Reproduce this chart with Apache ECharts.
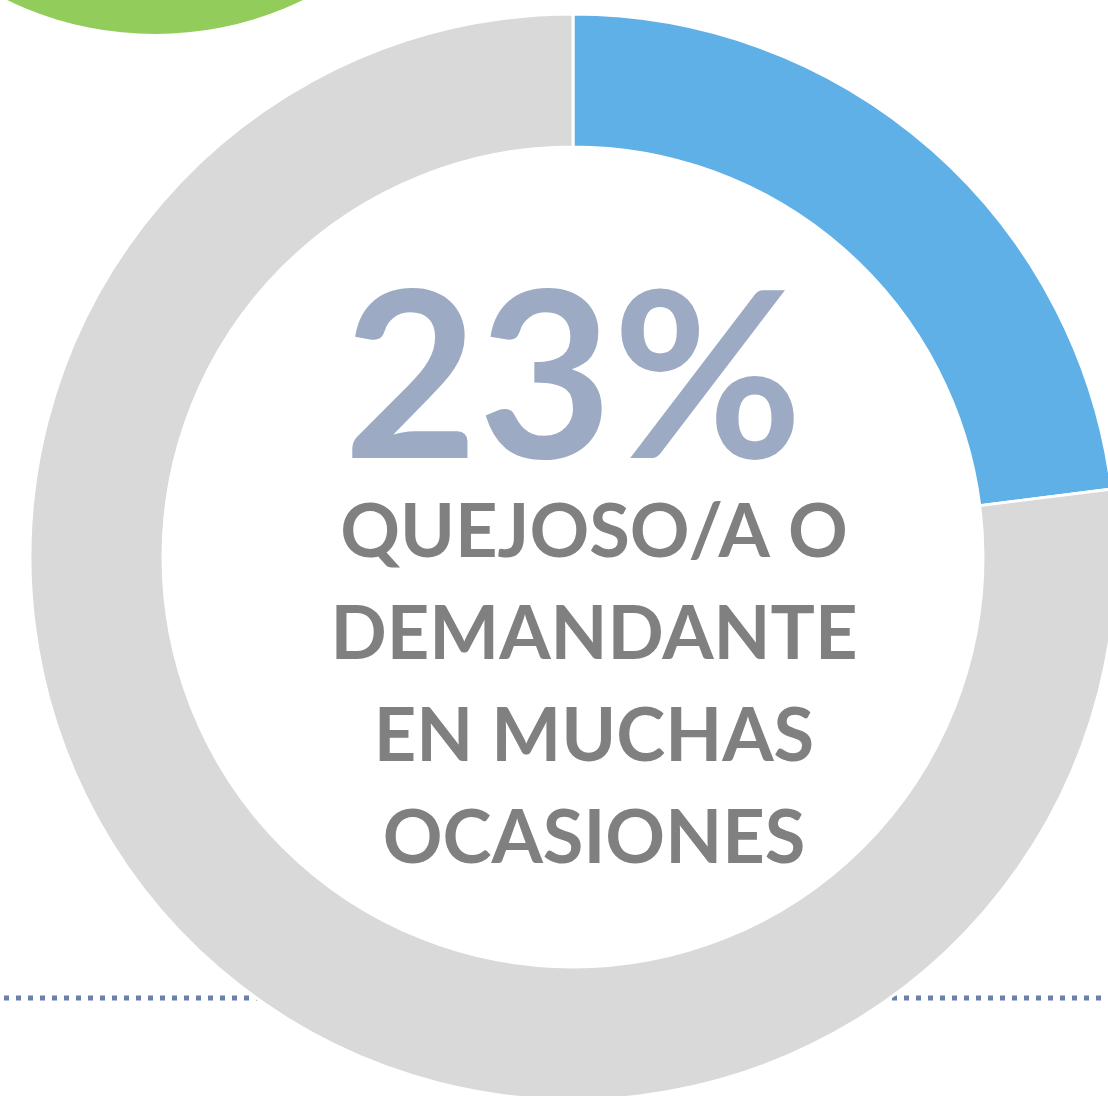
<!DOCTYPE html>
<html>
<head>
<meta charset="utf-8">
<script src="https://cdn.jsdelivr.net/npm/echarts@6/dist/echarts.min.js"></script>
<style>
  html, body { margin: 0; padding: 0; background: #fff; }
  #chart { width: 1108px; height: 1096px; }
</style>
</head>
<body>
<div id="chart"></div>
<script>
// datos del grafico
var categorias = ['Quejoso/a o demandante en muchas ocasiones', 'Resto'];
var valores = [23, 77];
var colores = ['#5eb0e6', '#d9d9d9'];
var porcentaje = '23%';
var lineasTexto = ['QUEJOSO/A O', 'DEMANDANTE', 'EN MUCHAS', 'OCASIONES'];

var fuente = 'Lato, "Open Sans", sans-serif';

var graficos = [
    // linea punteada de fondo
    {
        type: 'line', z: -10,
        shape: { x1: 4, y1: 998, x2: 1108, y2: 998 },
        style: { stroke: '#6a7fab', lineWidth: 5, lineDash: [5, 7] }
    },
    // circulo verde cortado arriba
    {
        type: 'circle', z: -10,
        shape: { cx: 155, cy: -305, r: 339 },
        style: { fill: '#92cd5c' }
    },
    {
        type: 'text', z: 10,
        style: {
            text: porcentaje, x: 573, y: 267,
            align: 'center', verticalAlign: 'top',
            font: 'bold 232px ' + fuente, fill: '#9caac3'
        }
    }
];
lineasTexto.forEach(function (t, i) {
    graficos.push({
        type: 'text', z: 10,
        style: {
            text: t, x: 594, y: 496 + i * 102,
            align: 'center', verticalAlign: 'top',
            font: 'bold 74px ' + fuente, fill: '#808080'
        }
    });
});

var myChart = echarts.init(document.getElementById('chart'));
myChart.setOption({
    animation: false,
    graphic: graficos,
    series: [
        {
            type: 'pie',
            center: [573, 557],
            radius: [410, 543],
            startAngle: 90,
            clockwise: true,
            label: { show: false },
            labelLine: { show: false },
            emphasis: { disabled: true },
            itemStyle: { borderColor: '#fff', borderWidth: 3 },
            data: categorias.map(function (c, i) {
                return { name: c, value: valores[i], itemStyle: { color: colores[i] } };
            })
        }
    ]
});
</script>
</body>
</html>
